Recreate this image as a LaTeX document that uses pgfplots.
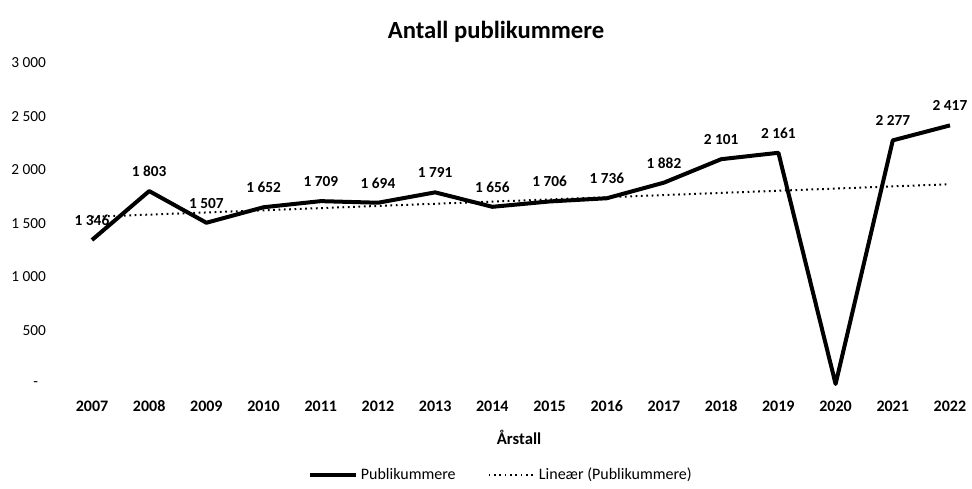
\documentclass[border=0pt]{standalone}
\usepackage{fontspec}
\setmainfont{Carlito}
\usepackage{pgfplots}
\pgfplotsset{compat=1.18}
\begin{document}
\begin{tikzpicture}[x=1pt,y=1pt]
\path[use as bounding box] (0,0) rectangle (729,366.75);
\begin{axis}[
  at={(69pt,78.75pt)}, anchor=origin,
  scale only axis, width=643.5pt, height=240.75pt,
  xmin=2007, xmax=2022, ymin=0, ymax=3000,
  clip=false,
  axis line style={draw=none},
  tick style={draw=none},
  xtick={2007,...,2022},
  xticklabels={2007,2008,2009,2010,2011,2012,2013,2014,2015,2016,2017,2018,2019,2020,2021,2022},
  ytick={0,500,1000,1500,2000,2500,3000},
  yticklabels={-\hphantom{0},500,1~000,1~500,2~000,2~500,3~000},
  major tick length=0pt,
  tick label style={font=\fontsize{11.5}{13}\selectfont},
  xticklabel style={font=\fontsize{12}{14}\selectfont\bfseries, yshift=-8pt, text height=9pt, text depth=2pt},
  yticklabel style={anchor=east, xshift=-31pt},
  legend style={draw=none, at={(axis description cs:0.4767,-0.2835)}, anchor=center,
    legend columns=2, font=\fontsize{12}{14}\selectfont,
    /tikz/every even column/.append style={column sep=22pt}},
  legend cell align=left,
  legend image code/.code={\draw[#1] (0pt,0pt) -- (35pt,0pt);},
]
\addplot[black, line width=3pt, line join=round,
  nodes near coords, point meta=explicit symbolic,
  every node near coord/.append style={font=\fontsize{11.5}{13}\selectfont\bfseries, anchor=south, yshift=6pt}]
  coordinates {
  (2007,1346) [1~346]
  (2008,1803) [1~803]
  (2009,1507) [1~507]
  (2010,1652) [1~652]
  (2011,1709) [1~709]
  (2012,1694) [1~694]
  (2013,1791) [1~791]
  (2014,1656) [1~656]
  (2015,1706) [1~706]
  (2016,1736) [1~736]
  (2017,1882) [1~882]
  (2018,2101) [2~101]
  (2019,2161) [2~161]
  (2020,0) []
  (2021,2277) [2~277]
  (2022,2417) [2~417]
  };
\addlegendentry{Publikummere}
\addplot[black, line width=1.5pt, dash pattern=on 1.3pt off 2.7pt]
  coordinates {(2007,1562.67) (2022,1867.08)};
\addlegendentry{Lineær (Publikummere)}
\node[font=\fontsize{18.5}{22}\selectfont\bfseries] at (axis description cs:0.4709,1.0966) {Antall publikummere};
\node[font=\fontsize{12.5}{15}\selectfont\bfseries] at (axis description cs:0.4977,-0.1651) {Årstall};
\end{axis}
\end{tikzpicture}
\end{document}
